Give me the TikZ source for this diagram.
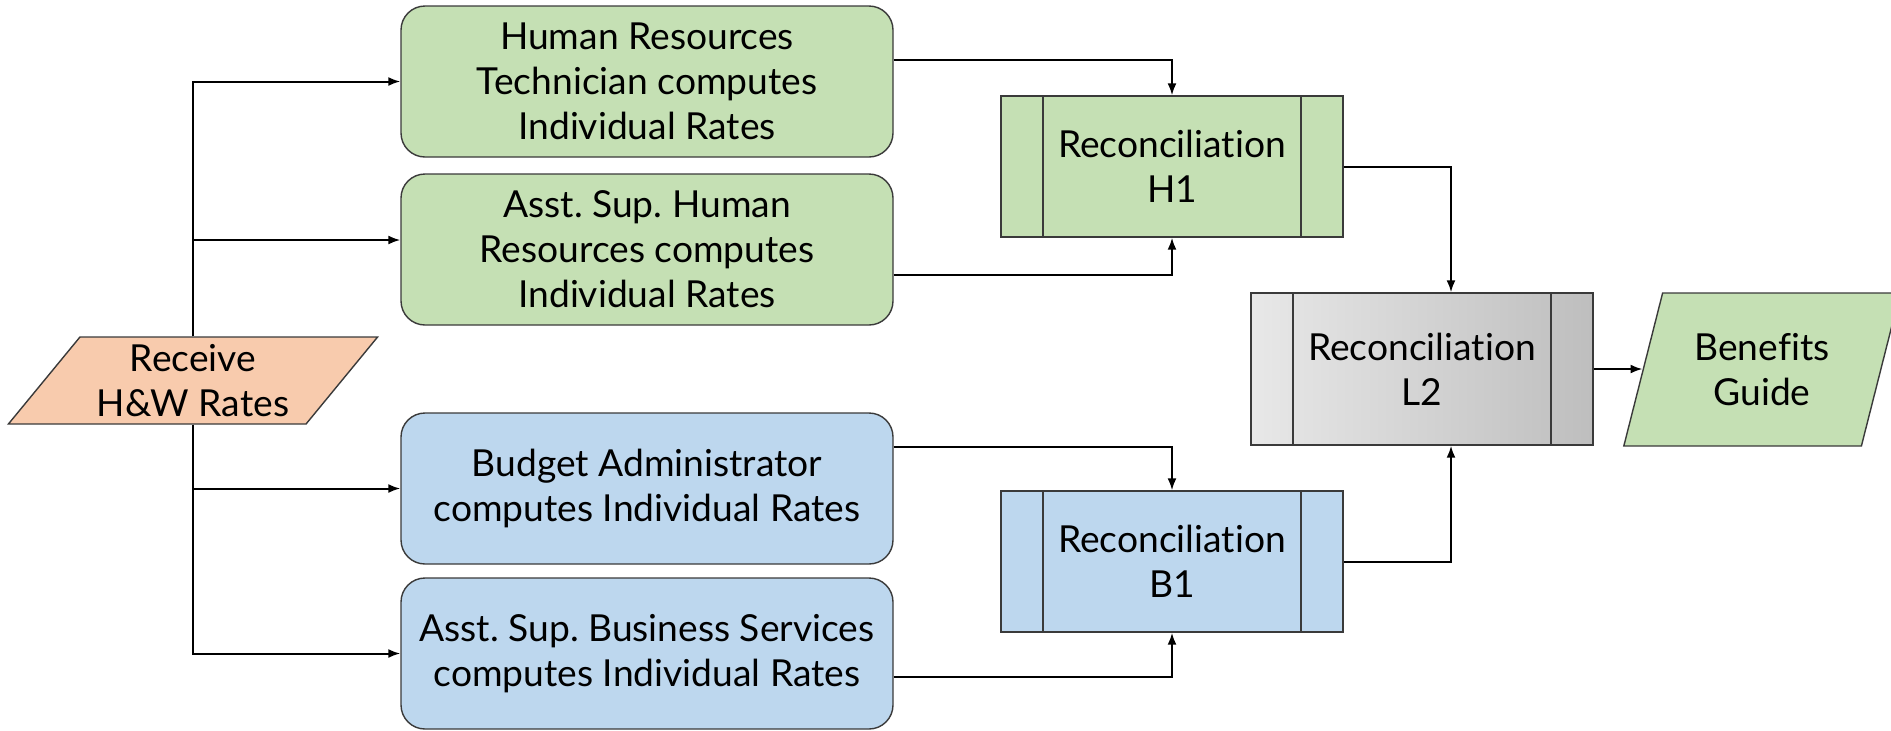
\documentclass[tikz,border=0pt]{standalone}
\usepackage{fontspec}
\setmainfont{Lato}[Ligatures=NoCommon]
\usetikzlibrary{shapes.geometric,arrows.meta}
\definecolor{hrgreen}{HTML}{C5E0B4}
\definecolor{busblue}{HTML}{BDD7EE}
\definecolor{rcvpeach}{HTML}{F8CBAD}
\definecolor{edgegray}{HTML}{3A3A3A}
\definecolor{lleft}{HTML}{E8E8E8}
\definecolor{lmid}{HTML}{DEDEDE}
\definecolor{lright}{HTML}{BEBEBE}
\frenchspacing

\begin{document}
\begin{tikzpicture}[x=0.5pt, y=-0.5pt,
    every node/.style={font=\fontsize{18.6pt}{22.5pt}\selectfont, align=center,
      draw=edgegray, line width=0.7pt},
    task/.style={rectangle, rounded corners=12pt, minimum width=246pt,
      minimum height=75.5pt, inner sep=0pt},
    recon/.style={rectangle, minimum width=171pt, minimum height=70.5pt, inner sep=0pt,
      path picture={\draw[edgegray, line width=0.7pt]
        ([xshift=21pt]path picture bounding box.north west) --
        ([xshift=21pt]path picture bounding box.south west)
        ([xshift=-21pt]path picture bounding box.north east) --
        ([xshift=-21pt]path picture bounding box.south east);}},
    io/.style={trapezium, trapezium stretches=true, inner sep=0pt},
    flow/.style={line width=1pt, -{Latex[length=6pt,width=4.5pt]}}]
  \useasboundingbox (0,0) rectangle (1891,730);

  \node[io, fill=rcvpeach, trapezium left angle=50, trapezium right angle=130,
        minimum width=185pt, minimum height=43.5pt] (recv) at (193,380.5) {Receive\\H\&W Rates};

  \node[task, fill=hrgreen] (hrtech) at (647,81.5) {Human Resources\\Technician computes\\Individual Rates};
  \node[task, fill=hrgreen] (asthr) at (647,249.5) {Asst. Sup. Human\\Resources computes\\Individual Rates};
  \node[task, fill=busblue] (budadm) at (647,488.5) {Budget Administrator\\computes Individual Rates};
  \node[task, fill=busblue] (astbus) at (647,653.5) {Asst. Sup. Business Services\\computes Individual Rates};

  \node[recon, fill=hrgreen] (reconh) at (1172,166.5) {Reconciliation\\H1};
  \node[recon, fill=busblue] (reconb) at (1172,561.5) {Reconciliation\\B1};
  \node[recon, left color=lleft, middle color=lmid, right color=lright,
        minimum height=76pt] (reconl) at (1422,369) {Reconciliation\\L2};

  \node[io, fill=hrgreen, trapezium left angle=70, trapezium right angle=110,
        minimum width=139pt, minimum height=76.5pt] (guide) at (1762,369.5) {Benefits\\Guide};

  \draw[flow] (recv.north) |- (hrtech.west);
  \draw[flow] (recv.north) |- ([yshift=4.75pt]asthr.west);
  \draw[flow] (recv.south) |- (budadm.west);
  \draw[flow] (recv.south) |- (astbus.west);

  \draw[flow] ([yshift=11pt]hrtech.east) -| (reconh.north);
  \draw[flow] ([yshift=-12.75pt]asthr.east) -| (reconh.south);
  \draw[flow] ([yshift=20.75pt]budadm.east) -| (reconb.north);
  \draw[flow] ([yshift=-11.75pt]astbus.east) -| (reconb.south);

  \draw[flow] (reconh.east) -| ([xshift=14.5pt]reconl.north);
  \draw[flow] (reconb.east) -| ([xshift=14.5pt]reconl.south);
  \draw[flow] (reconl.east) -- (guide.west |- reconl.east);
\end{tikzpicture}
\end{document}
